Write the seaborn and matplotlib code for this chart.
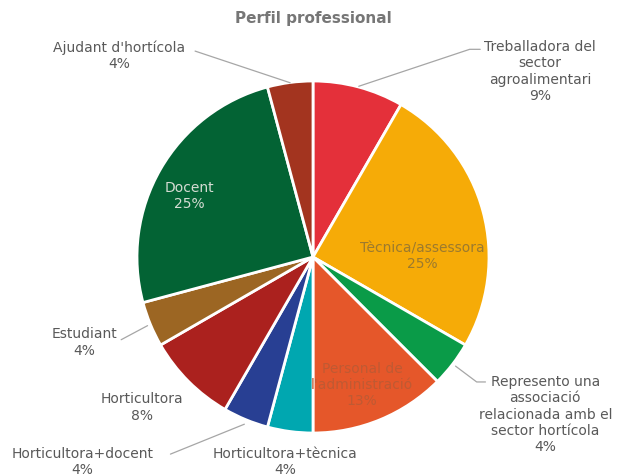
import matplotlib
matplotlib.use("Agg")
import matplotlib.pyplot as plt
import seaborn as sns

# data (responses, clockwise from 12 o'clock)
categories = ["Treballadora del\nsector\nagroalimentari", "Tècnica/assessora",
              "Represento una\nassociació\nrelacionada amb el\nsector hortícola",
              "Personal de\nl'administració", "Horticultora+tècnica",
              "Horticultora+docent", "Horticultora", "Estudiant", "Docent",
              "Ajudant d'hortícola"]
counts = [2, 6, 1, 3, 1, 1, 2, 1, 6, 1]
pct_labels = ["9%", "25%", "4%", "13%", "4%", "4%", "8%", "4%", "25%", "4%"]

colors = ["#E4303A", "#F6AB07", "#0A9B48", "#E5572A", "#00A7B0",
          "#283F93", "#AB211E", "#9C6623", "#036334", "#A3341F"]

# label placement (pie units: center 0,0 radius 1)
label_xy = [(1.29, 1.06), (0.62, 0.01), (1.32, -0.89), (0.28, -0.72), (-0.16, -1.16),
            (-1.31, -1.16), (-0.97, -0.85), (-1.30, -0.48), (-0.70, 0.35), (-1.10, 1.15)]
label_col = ["#595959", "#9C7A2E", "#595959", "#BF5A33", "#595959",
             "#595959", "#595959", "#595959", "#D5DCD3", "#595959"]
# leader lines (text end -> wedge edge)
leaders = {0: [(0.95, 1.18), (0.89, 1.18), (0.26, 0.97)],
           2: [(0.98, -0.71), (0.93, -0.71), (0.81, -0.62)],
           5: [(-0.81, -1.12), (-0.39, -0.95)],
           7: [(-1.09, -0.47), (-0.94, -0.39)],
           9: [(-0.67, 1.17), (-0.13, 0.99)]}

sns.set_theme(style="white")
plt.rcParams["font.family"] = ["DejaVu Sans"]

fig = plt.figure(figsize=(6.21, 4.77), dpi=100)
ax = fig.add_axes([0, 0, 1, 1])
ax.pie(counts, colors=colors, startangle=90, counterclock=False, radius=1,
       wedgeprops=dict(edgecolor="white", linewidth=2))

for i, (name, pct) in enumerate(zip(categories, pct_labels)):
    x, y = label_xy[i]
    ax.text(x, y, name + "\n" + pct, ha="center", va="center", fontsize=10,
            color=label_col[i], linespacing=1.2)
for i, pts in leaders.items():
    xs = [p[0] for p in pts]
    ys = [p[1] for p in pts]
    ax.plot(xs, ys, color="#A6A6A6", lw=0.9)

ax.text(0, 1.36, "Perfil professional", ha="center", va="center", fontsize=11,
        fontweight="bold", color="#767676")

ax.set_xlim(-313 / 176, (621 - 313) / 176)
ax.set_ylim((258 - 477) / 176, 258 / 176)
ax.set_aspect("equal")
ax.axis("off")
fig.savefig("out.png", dpi=100, facecolor="white")
